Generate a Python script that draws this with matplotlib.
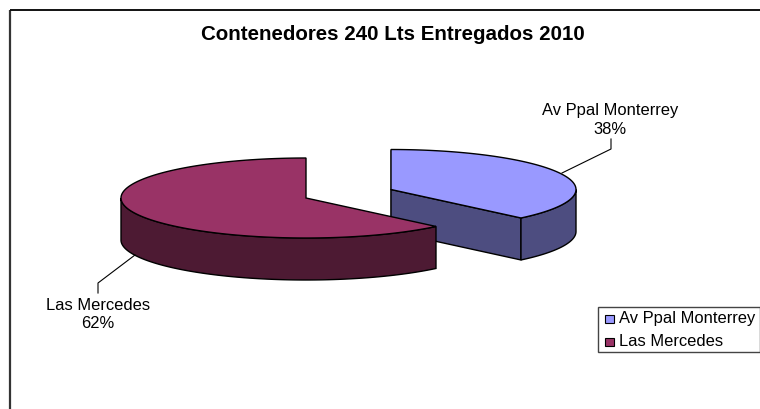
"""
Contenedores 240 Lts entregados 2010: exploded 3D style pie, drawn in pixel coordinates
"""
import numpy as np
import matplotlib

matplotlib.use("Agg")
import matplotlib.pyplot as plt
from matplotlib.patches import Polygon, Rectangle

title = "Contenedores 240 Lts Entregados 2010"
categories = ["Av Ppal Monterrey", "Las Mercedes"]
values = [37.6, 62.4]
top_colors = ["#9999ff", "#993366"]
side_colors = ["#4d4d80", "#4d1a33"]

plt.rcParams["font.family"] = ["Liberation Sans", "DejaVu Sans"]

RX, RY, DEPTH = 185, 40, 42
CENTERS = [(391, 189.5), (306, 198)]

fig = plt.figure(figsize=(7.6, 4.09), dpi=100)
ax = fig.add_axes([0, 0, 1, 1])
ax.set_xlim(0, 760)
ax.set_ylim(409, 0)
ax.axis("off")


def rim(center, a0, a1):
    # angles are clockwise from twelve o'clock, in degrees
    t = np.radians(np.linspace(a0, a1, 200))
    return np.column_stack(
        [center[0] + RX * np.sin(t), center[1] - RY * np.cos(t)]
    )


def draw_slice(center, a0, a1, top, side):
    edge = rim(center, a0, a1)
    down = np.array([0, DEPTH])
    # flat cut walls first, only the ones facing the viewer
    for a in (a0, a1):
        p = rim(center, a, a)[0]
        if a == a0 and a0 < 180 and a0 > 0 or a == a1 and a1 % 360 == 0:
            continue
        wall = [center, p, p + down, np.array(center) + down]
        ax.add_patch(Polygon(wall, fc=side, ec="black", lw=1, joinstyle="round"))
    # curved outer wall, the part on the near side of the ellipse
    lo, hi = max(a0, 90), min(a1, 270)
    if lo < hi:
        front = rim(center, lo, hi)
        wall = np.vstack([front, front[::-1] + down])
        ax.add_patch(Polygon(wall, fc=side, ec="black", lw=1))
    surface = np.vstack([[center], edge])
    ax.add_patch(Polygon(surface, fc=top, ec="black", lw=1))


angles = np.cumsum([0] + values) * 3.6

# the blue slice sits behind, the red one overlaps it
draw_slice(CENTERS[0], angles[0], angles[1], top_colors[0], side_colors[0])
draw_slice(CENTERS[1], angles[1], angles[2], top_colors[1], side_colors[1])

# chart frame, cropped on the right and at the bottom
ax.plot([10, 10], [409, 10], color="#333333", lw=1.6, solid_capstyle="butt")
ax.plot([10, 760], [10, 10], color="#111111", lw=1.4, solid_capstyle="butt")

ax.text(392.5, 34.5, title, ha="center", va="center", fontsize=14.8, fontweight="bold")

# data labels with leader lines
ax.text(610, 120, f"{categories[0]}\n{values[0]:.0f}%", ha="center", va="center",
        fontsize=11.9, linespacing=1.25)
ax.plot([562, 611, 611], [173, 149, 139], color="black", lw=0.8)
ax.text(98, 314.5, f"{categories[1]}\n{values[1]:.0f}%", ha="center", va="center",
        fontsize=11.9, linespacing=1.25)
ax.plot([135, 98, 98], [255, 283, 293], color="black", lw=0.8)

# legend box
ax.add_patch(Rectangle((598, 307), 162, 45, fc="white", ec="#444444", lw=1))
for i, name in enumerate(categories):
    y = 319 + i * 23
    ax.add_patch(Rectangle((604.5, y - 4), 9, 8, fc=top_colors[i], ec="black", lw=0.8))
    ax.text(619, y, name, va="center", ha="left", fontsize=11.9)

fig.savefig("out.png", dpi=100)
